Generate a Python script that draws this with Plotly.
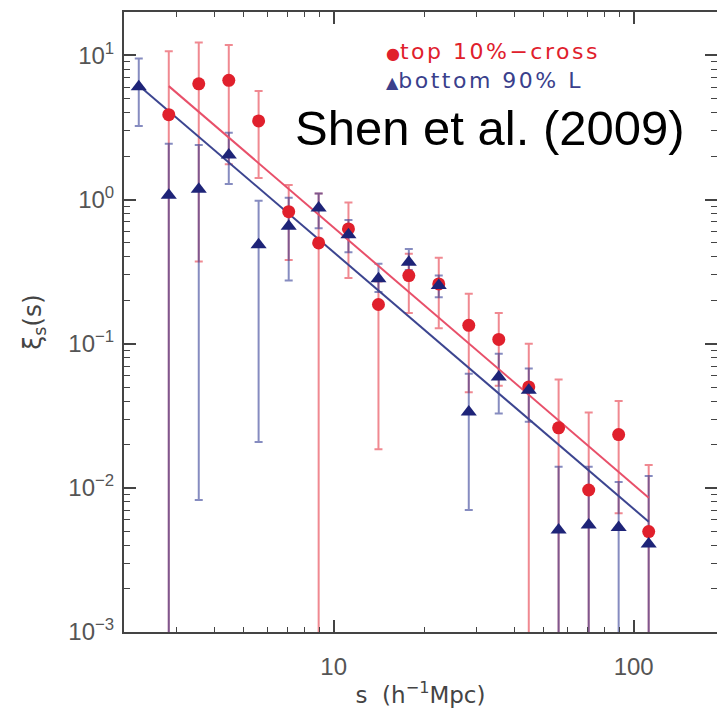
import plotly.graph_objects as go

# separation bins s (h^-1 Mpc)
s_bins = [2.24, 2.82, 3.55, 4.47, 5.62, 7.08, 8.91, 11.2, 14.1, 17.8,
          22.4, 28.2, 35.5, 44.7, 56.2, 70.8, 89.1, 112.2]

# top 10% - cross (red circles), starts at second bin
red_s = s_bins[1:]
red_xi = [3.88, 6.35, 6.71, 3.51, 0.824, 0.50, 0.625, 0.187, 0.297, 0.260,
          0.134, 0.107, 0.0501, 0.0261, 0.00966, 0.0234, 0.00497]
red_hi = [10.7, 12.3, 11.8, 5.66, 1.26, 1.10, 0.955, 0.27, 0.42, 0.394,
          0.222, 0.163, 0.100, 0.0564, 0.0333, 0.0401, 0.0144]
red_lo = [0, 0.371, 1.76, 1.41, 0.381, 0, 0.286, 0.0185, 0.163, 0.128,
          0.046, 0.051, 0, 0, 0, 0.00667, 0]

# bottom 90% L (blue triangles)
blue_s = s_bins
blue_xi = [6.07, 1.07, 1.18, 2.04, 0.486, 0.652, 0.873, 0.570, 0.282, 0.367,
           0.253, 0.0336, 0.0587, 0.0475, 0.0051, 0.00553, 0.0053, 0.00408]
blue_hi = [9.53, 2.44, 2.39, 2.91, 0.98, 1.03, 1.10, 0.721, 0.358, 0.454,
           0.297, 0.0619, 0.0853, 0.0672, 0.0140, 0.0140, 0.0110, 0.0121]
blue_lo = [3.24, 0, 0.00824, 1.28, 0.0208, 0.274, 0.631, 0.431, 0.228, 0.325,
           0.210, 0.00702, 0.0328, 0.0287, 0, 0, 0, 0]

# power-law fit lines (end points)
fit_red_s = [2.82, 112.2]
fit_red_xi = [6.12, 0.00855]
fit_blue_s = [2.24, 112.2]
fit_blue_xi = [6.19, 0.00582]

# tick labels
y_tickvals = [0.001, 0.01, 0.1, 1, 10]
y_ticktext = ["10<sup>\u22123</sup>", "10<sup>\u22122</sup>", "10<sup>\u22121</sup>",
              "10<sup>0</sup>", "10<sup>1</sup>"]
x_tickvals = [10, 100]
x_ticktext = ["10", "100"]
x_minor = [3, 4, 5, 6, 7, 8, 9, 20, 30, 40, 50, 60, 70, 80, 90]
y_minor = [m * 10 ** e for e in range(-3, 2) for m in range(2, 10)]

RED = "#e0202c"
BLUE = "#1e2478"
RED_BAR = "rgba(228,40,55,0.55)"
BLUE_BAR = "rgba(35,45,140,0.55)"

def err(vals, hi, lo):
    plus = [h - v for v, h in zip(vals, hi)]
    minus = [v - l for v, l in zip(vals, lo)]
    return plus, minus

rp, rm = err(red_xi, red_hi, red_lo)
bp, bm = err(blue_xi, blue_hi, blue_lo)

fig = go.Figure()
# error bars first
fig.add_trace(go.Scatter(x=red_s, y=red_xi, mode="markers",
                         marker=dict(size=1, color="rgba(0,0,0,0)"),
                         error_y=dict(type="data", array=rp, arrayminus=rm,
                                      color=RED_BAR, thickness=2, width=4),
                         showlegend=False, hoverinfo="skip"))
fig.add_trace(go.Scatter(x=blue_s, y=blue_xi, mode="markers",
                         marker=dict(size=1, color="rgba(0,0,0,0)"),
                         error_y=dict(type="data", array=bp, arrayminus=bm,
                                      color=BLUE_BAR, thickness=2, width=4),
                         showlegend=False, hoverinfo="skip"))
# fit lines
fig.add_trace(go.Scatter(x=fit_red_s, y=fit_red_xi, mode="lines",
                         line=dict(color="#e8506a", width=2), showlegend=False))
fig.add_trace(go.Scatter(x=fit_blue_s, y=fit_blue_xi, mode="lines",
                         line=dict(color="#3c4590", width=2), showlegend=False))
# markers
fig.add_trace(go.Scatter(x=red_s, y=red_xi, mode="markers", name="top 10%\u2212cross",
                         marker=dict(symbol="circle", size=13, color=RED),
                         showlegend=False))
fig.add_trace(go.Scatter(x=blue_s, y=blue_xi, mode="markers", name="bottom 90% L",
                         marker=dict(symbol="triangle-up", size=14, color=BLUE),
                         showlegend=False))

axis_common = dict(type="log", showline=True, linecolor="#444", linewidth=2,
                   mirror="ticks", ticks="inside", ticklen=12, tickwidth=1.5,
                   tickcolor="#444", showgrid=False, zeroline=False, automargin=False,
                   tickfont=dict(family="Liberation Sans, Arial", size=24, color="#555"))

fig.update_xaxes(**axis_common, range=[0.30103, 2.2777],
                 tickmode="array", tickvals=x_tickvals, ticktext=x_ticktext,
                 minor=dict(ticks="inside", ticklen=5, tickwidth=1.2, tickcolor="#444",
                            tickmode="array", tickvals=x_minor, showgrid=False),
                 ticklabelstandoff=12,
                 title=dict(text="s  (h<sup>\u22121</sup>Mpc)", standoff=8,
                            font=dict(family="DejaVu Sans", size=23, color="#444")))
fig.update_yaxes(**axis_common, range=[-3, 1.301],
                 tickmode="array", tickvals=y_tickvals, ticktext=y_ticktext,
                 minor=dict(ticks="inside", ticklen=6, tickwidth=1.2, tickcolor="#444",
                            tickmode="array", tickvals=y_minor, showgrid=False),
                 ticklabelstandoff=3,
                 title=dict(text="\u03be<sub>s</sub>(s)", standoff=20,
                            font=dict(family="DejaVu Sans", size=25, color="#444")))

fig.add_annotation(xref="paper", yref="paper", x=0.4385, y=0.9355,
                   xanchor="left", yanchor="middle", showarrow=False,
                   text="<span style='font-size:16px'>\u25cf</span>"
                        "<span style='letter-spacing:2.5px'>top 10%\u2212cross</span>",
                   font=dict(family="DejaVu Sans", size=22, color=RED))
fig.add_annotation(xref="paper", yref="paper", x=0.4385, y=0.890,
                   xanchor="left", yanchor="middle", showarrow=False,
                   text="<span style='font-size:16px'>\u25b2</span>"
                        "<span style='letter-spacing:2.5px'>bottom 90% L</span>",
                   font=dict(family="DejaVu Sans", size=22, color="#3a3f8c"))
fig.add_annotation(xref="paper", yref="paper", x=0.617, y=0.813,
                   xanchor="center", yanchor="middle", showarrow=False,
                   text="Shen et al. (2009)",
                   font=dict(family="Liberation Sans, Arial", size=49, color="black"))

fig.update_layout(width=717, height=711,
                  margin=dict(l=124, r=0, t=12, b=79, autoexpand=False),
                  paper_bgcolor="white", plot_bgcolor="white",
                  showlegend=False)

fig.write_html("out.html",
               config={"displayModeBar": False},
               post_script="document.body.style.margin='0';"
                           "document.body.style.padding='0';"
                           "document.body.style.overflow='hidden';")
